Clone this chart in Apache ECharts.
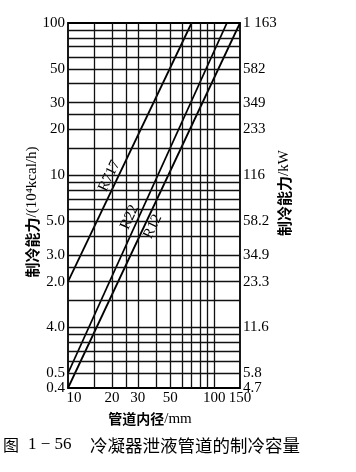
<!DOCTYPE html>
<html><head><meta charset="utf-8">
<script src="https://cdn.jsdelivr.net/npm/echarts@6/dist/echarts.min.js"></script>
<style>html,body{margin:0;padding:0;background:#fff}#c{width:356px;height:472px}</style>
</head><body><div id="c"></div>
<script>
// ---- data ----
const seriesNames = ['R717', 'R22', 'R12'];
const r717 = [[10, 2.0], [70, 100]];
const r22  = [[10, 0.5], [122, 100]];
const r12  = [[10, 0.4], [150, 100]];
const xTickValues = [10, 20, 30, 50, 100, 150];
const xTickLabels = ['10', '20', '30', '50', '100', '150'];
const yTickValues = [100, 50, 30, 20, 10, 5, 3, 2, 1, 0.5, 0.4];
const yLeftLabels = ['100', '50', '30', '20', '10', '5.0', '3.0', '2.0', '4.0', '0.5', '0.4'];
const yRightLabels = ['1 163', '582', '349', '233', '116', '58.2', '34.9', '23.3', '11.6', '5.8', '4.7'];
const xGridValues = [15, 20, 25, 30, 40, 50, 60, 70, 80, 90, 100];
const yGridValues = [90, 80, 70, 60, 50, 40, 30, 25, 20, 15, 10, 9, 8, 7, 6, 5, 4, 3, 2.5, 2, 1.5, 1, 0.9, 0.8, 0.7, 0.6, 0.5];
const labelAnchors = [[19.2, 9.9], [26.4, 5.3], [38.0, 4.6]];

const SERIF = '"Liberation Serif","Times New Roman",serif';
const CJK = '"Noto Sans CJK SC",sans-serif';

function pick(values, labels, v) {
  let best = 0, bd = Infinity;
  values.forEach((x, i) => { const d = Math.abs(Math.log(x) - Math.log(v)); if (d < bd) { bd = d; best = i; } });
  return labels[best];
}

const chart = echarts.init(document.getElementById('c'));
const gridLines = [].concat(xGridValues.map(v => ({ xAxis: v })), yGridValues.map(v => ({ yAxis: v })));
const seriesData = [r717, r22, r12];

const labelStyle = { fontFamily: SERIF, fontSize: 15, color: '#000', showMinLabel: true, showMaxLabel: true, hideOverlap: false };
const yMin = yTickValues[yTickValues.length - 1];
const yUpper = yTickValues.slice(0, -1);
const yLowest = [yMin];

function yAxisDef(position, values, labels) {
  return {
    type: 'log', logBase: 10, min: 0.4, max: 100, position: position,
    axisLine: { show: false }, axisTick: { show: false },
    splitLine: { show: false }, minorTick: { show: false }, minorSplitLine: { show: false },
    axisLabel: Object.assign({ customValues: values, margin: 3, padding: [6, 0, 0, 0],
      formatter: v => pick(yTickValues, labels, v) }, labelStyle)
  };
}

chart.setOption({
  animation: false,
  grid: { left: 68, right: 116, top: 23, bottom: 84, show: true, borderColor: '#000', borderWidth: 1.8, backgroundColor: 'transparent' },
  xAxis: {
    type: 'log', logBase: 10, min: 10, max: 150,
    axisLine: { show: false }, axisTick: { show: false }, splitLine: { show: false },
    axisLabel: Object.assign({
      customValues: xTickValues, margin: 3,
      formatter: v => { const t = pick(xTickValues, xTickLabels, v); return t === '10' ? '{l|' + t + '}' : t; },
      rich: { l: { fontFamily: SERIF, fontSize: 15, color: '#000', padding: [0, 0, 0, 12] } }
    }, labelStyle)
  },
  yAxis: [
    yAxisDef('left', yUpper, yLeftLabels),
    yAxisDef('right', yUpper, yRightLabels),
    yAxisDef('left', yLowest, yLeftLabels),
    yAxisDef('right', yLowest, yRightLabels)
  ],
  series: seriesData.map((d, i) => ({
    name: seriesNames[i], type: 'line', data: d, symbol: 'none', showSymbol: false,
    xAxisIndex: 0, yAxisIndex: 0,
    lineStyle: { color: '#000', width: 1.8 },
    markLine: i === 0 ? {
      silent: true, symbol: ['none', 'none'], label: { show: false },
      lineStyle: { color: '#111', width: 1.3, type: 'solid' }, data: gridLines
    } : undefined
  }))
});

const graphics = seriesNames.map((n, i) => {
  const p = chart.convertToPixel({ seriesIndex: 0 }, labelAnchors[i]);
  const a = chart.convertToPixel({ seriesIndex: 0 }, seriesData[i][0]);
  const b = chart.convertToPixel({ seriesIndex: 0 }, seriesData[i][1]);
  const ang = Math.atan2(a[1] - b[1], b[0] - a[0]);
  return { type: 'text', x: p[0], y: p[1], rotation: ang,
    style: { text: n, fontFamily: SERIF, fontSize: 15, fill: '#000', align: 'center', verticalAlign: 'middle' } };
});
graphics.push(
  { type: 'text', x: 32, y: 212, rotation: Math.PI / 2,
    style: { text: '{a|制冷能力}{b|/(10⁴kcal/h)}', align: 'center', verticalAlign: 'middle',
      rich: { a: { fontFamily: CJK, fontWeight: 'bold', fontSize: 15, fill: '#000' }, b: { fontFamily: SERIF, fontSize: 15, fill: '#000' } } } },
  { type: 'text', x: 284, y: 193, rotation: Math.PI / 2,
    style: { text: '{a|制冷能力}{b|/kW}', align: 'center', verticalAlign: 'middle',
      rich: { a: { fontFamily: CJK, fontWeight: 'bold', fontSize: 15, fill: '#000' }, b: { fontFamily: SERIF, fontSize: 15, fill: '#000' } } } },
  { type: 'text', x: 150, y: 419,
    style: { text: '{a|管道内径}{b|/mm}', align: 'center', verticalAlign: 'middle',
      rich: { a: { fontFamily: CJK, fontWeight: 'bold', fontSize: 14, fill: '#000' }, b: { fontFamily: SERIF, fontSize: 15, fill: '#000' } } } },
  { type: 'text', x: 3, y: 445, style: { text: '图', fontFamily: CJK, fontSize: 16, fill: '#000', align: 'left', verticalAlign: 'middle' } },
  { type: 'text', x: 28, y: 445, style: { text: '1 − 56', fontFamily: SERIF, fontSize: 17, fill: '#000', align: 'left', verticalAlign: 'middle' } },
  { type: 'text', x: 90, y: 445, style: { text: '冷凝器泄液管道的制冷容量', fontFamily: CJK, fontSize: 17.5, fill: '#000', align: 'left', verticalAlign: 'middle' } }
);
chart.setOption({ graphic: graphics });
</script>
</body></html>
